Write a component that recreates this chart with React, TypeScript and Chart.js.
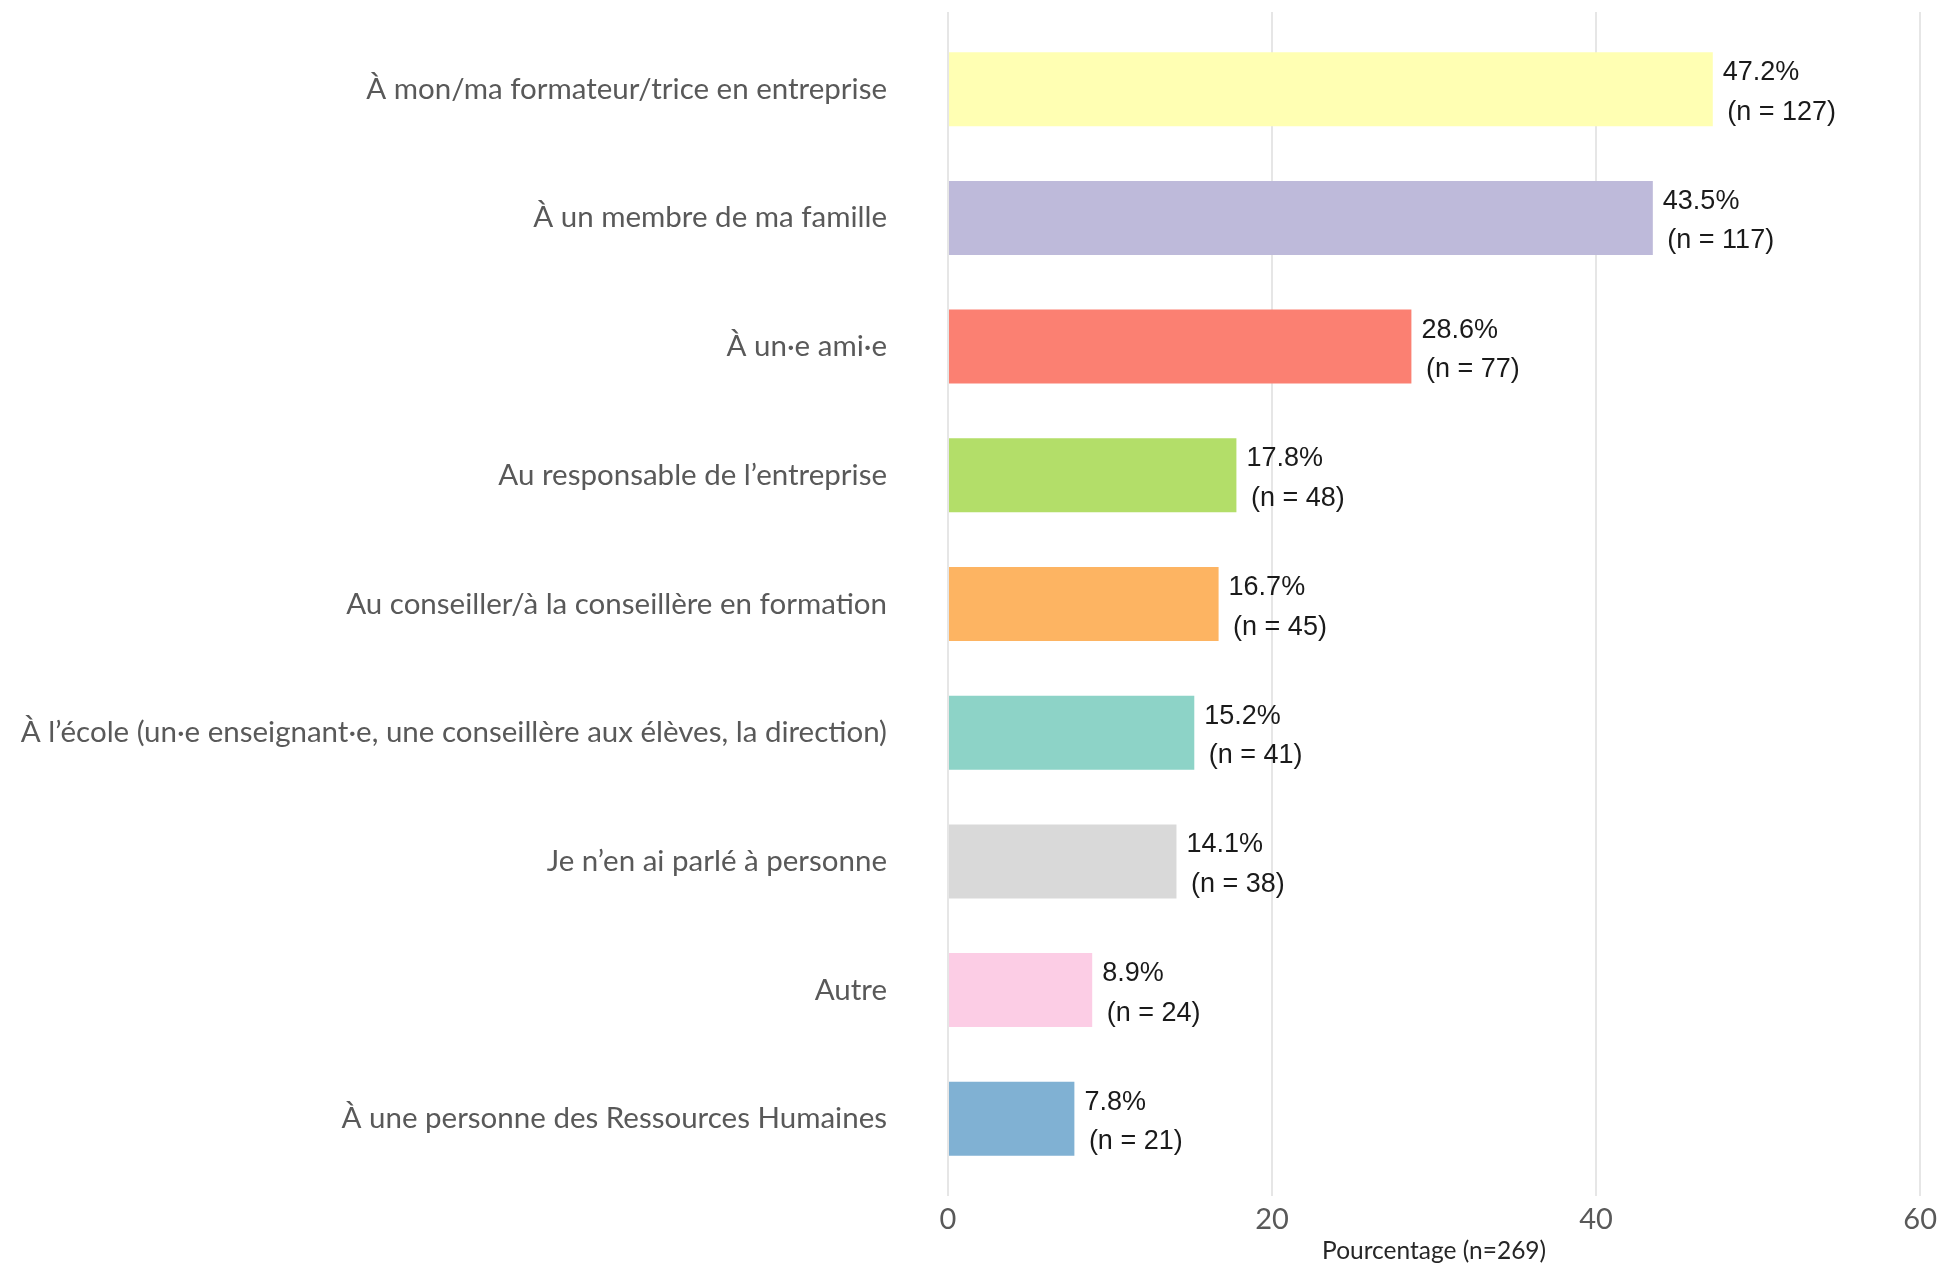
import React, { useEffect, useRef } from 'react';
import { Chart, registerables } from 'chart.js';

Chart.register(...registerables);

const categories = [
  'À mon/ma formateur/trice en entreprise',
  'À un membre de ma famille',
  'À un·e ami·e',
  'Au responsable de l’entreprise',
  'Au conseiller/à la conseillère en formation',
  'À l’école (un·e enseignant·e, une conseillère aux élèves, la direction)',
  'Je n’en ai parlé à personne',
  'Autre',
  'À une personne des Ressources Humaines',
];
const percentages = [47.2, 43.5, 28.6, 17.8, 16.7, 15.2, 14.1, 8.9, 7.8];
const counts = [127, 117, 77, 48, 45, 41, 38, 24, 21];
const colors = ['#FFFFB3', '#BEBADA', '#FB8072', '#B3DE69', '#FDB462', '#8DD3C7', '#D9D9D9', '#FCCDE5', '#80B1D3'];
const xMin = 0;
const xMax = 60;
const xStep = 20;
const xTitle = 'Pourcentage (n=269)';

const valueLabels = {
  id: 'valueLabels',
  afterDatasetsDraw(chart: any) {
    const ctx = chart.ctx;
    const meta = chart.getDatasetMeta(0);
    ctx.save();
    ctx.font = '27px "Liberation Sans", Arial, sans-serif';
    ctx.fillStyle = '#1a1a1a';
    ctx.textAlign = 'left';
    ctx.textBaseline = 'alphabetic';
    meta.data.forEach((bar: any, i: number) => {
      const { x, y } = bar.getProps(['x', 'y'], true);
      ctx.fillText(`${percentages[i].toFixed(1)}%`, x + 10, y - 9);
      ctx.fillText(`(n = ${counts[i]})`, x + 14.5, y + 30.5);
    });
    ctx.restore();
  },
};

export default function App() {
  const ref = useRef<HTMLCanvasElement | null>(null);

  useEffect(() => {
    if (!ref.current) return;
    const chart = new Chart(ref.current, {
      type: 'bar',
      data: {
        datasets: [
          {
            data: percentages.map((v, i) => ({ x: v, y: i })),
            backgroundColor: colors,
            borderWidth: 0,
            categoryPercentage: 1,
            barPercentage: 0.575,
          },
        ],
      },
      options: {
        indexAxis: 'y',
        animation: false,
        responsive: false,
        devicePixelRatio: 1,
        layout: { padding: { left: 0, right: 20, top: 12, bottom: 0 } },
        plugins: { legend: { display: false }, tooltip: { enabled: false } },
        scales: {
          x: {
            type: 'linear',
            min: xMin,
            max: xMax,
            afterFit: (s: any) => {
              s.height = 67;
            },
            grid: { color: '#e6e6e6', lineWidth: 2, drawTicks: false },
            border: { display: false },
            ticks: {
              stepSize: xStep,
              padding: 6,
              color: '#595959',
              font: { family: 'Lato', size: 29 },
            },
            title: {
              display: true,
              text: xTitle,
              color: '#262626',
              font: { family: 'Lato', size: 24.5, lineHeight: 0.95 },
              padding: { top: 0, bottom: 0 },
            },
          },
          y: {
            type: 'linear',
            reverse: true,
            offset: false,
            min: -0.6,
            max: 8.6,
            afterBuildTicks: (s: any) => {
              s.ticks = categories.map((_, i) => ({ value: i }));
            },
            afterFit: (s: any) => {
              s.width = 948;
            },
            grid: { display: false, drawTicks: true, tickLength: 61 },
            border: { display: false },
            ticks: {
              autoSkip: false,
              padding: 0,
              color: '#595959',
              font: { family: 'Lato', size: 29.5, lineHeight: 0.8 },
              callback: (v: any) => categories[v] ?? '',
            },
          },
        },
      },
      plugins: [valueLabels],
    } as any);
    return () => chart.destroy();
  }, []);

  return (
    <div style={{ position: 'fixed', left: 0, top: 0, width: 1943, height: 1263, background: '#fff' }}>
      <canvas ref={ref} width={1943} height={1263} style={{ width: 1943, height: 1263 }} />
    </div>
  );
}
